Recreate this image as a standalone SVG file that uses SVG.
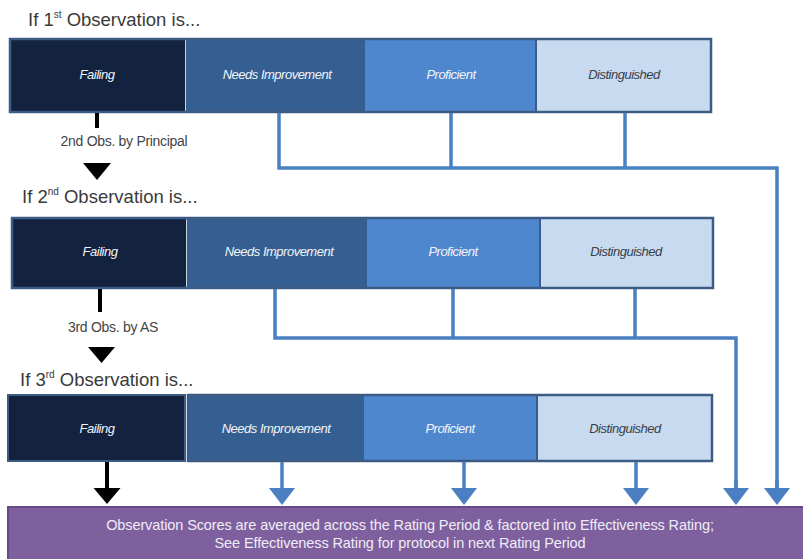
<svg xmlns="http://www.w3.org/2000/svg" width="803" height="559" viewBox="0 0 803 559">
<defs>
<style>
.hd{font-family:"Liberation Sans",Arial,sans-serif;font-size:18.5px;fill:#3a3a3a}
.sup{font-size:10px}
.lbl{font-family:"Liberation Sans",Arial,sans-serif;font-size:13px;font-style:italic;text-anchor:middle;letter-spacing:-0.5px}
.w{fill:#f2f4f8}
.dk{fill:#3a3f48}
.fail{fill:#12223f}
.ni{fill:#355f91}
.pro{fill:#4f87cf}
.dis{fill:#c7daf0}
.frame{fill:none;stroke:#3d5c85;stroke-width:2.5}
.div{stroke:#3d5c85;stroke-width:2}
.blue{fill:none;stroke:#4a7fc1;stroke-width:3.5}
.blk{fill:none;stroke:#000;stroke-width:4}
.note{font-family:"Liberation Sans",Arial,sans-serif;font-size:14.5px;fill:#f0ecf6;text-anchor:middle;letter-spacing:-0.1px}
.small{font-family:"Liberation Sans",Arial,sans-serif;font-size:14px;fill:#444;text-anchor:middle;letter-spacing:-0.3px}
</style>
<marker id="ab" markerUnits="userSpaceOnUse" markerWidth="18" markerHeight="28" refX="9" refY="13" orient="auto" viewBox="0 0 18 28">
<path d="M0,0 L17,13 L0,26 z" fill="#4a7fc1"/>
</marker>
<marker id="ak" markerUnits="userSpaceOnUse" markerWidth="18" markerHeight="28" refX="9" refY="13.5" orient="auto" viewBox="0 0 18 28">
<path d="M0,0 L16,13.5 L0,27 z" fill="#000"/>
</marker>
</defs>
<rect width="803" height="559" fill="#fff"/>

<g id="heading1"><text class="hd" x="28" y="26">If 1<tspan class="sup" dy="-8">st</tspan><tspan dy="8"> Observation is...</tspan></text></g>
<g id="heading2"><text class="hd" x="22" y="203">If 2<tspan class="sup" dy="-8">nd</tspan><tspan dy="8"> Observation is...</tspan></text></g>
<g id="heading3"><text class="hd" x="20" y="386">If 3<tspan class="sup" dy="-8">rd</tspan><tspan dy="8"> Observation is...</tspan></text></g>

<g id="row1">
<rect class="fail" x="10" y="39" width="175" height="73"/>
<rect class="ni" x="185" y="39" width="180" height="73"/>
<rect class="pro" x="365" y="39" width="171" height="73"/>
<rect class="dis" x="536" y="39" width="175" height="73"/>
<line class="div" x1="536" y1="39" x2="536" y2="112"/>
<line x1="185.5" y1="40" x2="185.5" y2="111" stroke="#c9d3e0" stroke-width="1"/>
<rect class="frame" x="10" y="39" width="701" height="73"/>
<text class="lbl w" x="97" y="79">Failing</text>
<text class="lbl w" x="277" y="79">Needs Improvement</text>
<text class="lbl w" x="451" y="79">Proficient</text>
<text class="lbl dk" x="624" y="79">Distinguished</text>
</g>

<g id="row2">
<rect class="fail" x="12" y="218" width="174" height="70"/>
<rect class="ni" x="186" y="218" width="181" height="70"/>
<rect class="pro" x="367" y="218" width="173" height="70"/>
<rect class="dis" x="540" y="218" width="173" height="70"/>
<line class="div" x1="540" y1="218" x2="540" y2="288"/>
<line x1="186.5" y1="219" x2="186.5" y2="287" stroke="#c9d3e0" stroke-width="1"/>
<rect class="frame" x="12" y="218" width="701" height="70"/>
<text class="lbl w" x="100" y="256">Failing</text>
<text class="lbl w" x="279" y="256">Needs Improvement</text>
<text class="lbl w" x="453" y="256">Proficient</text>
<text class="lbl dk" x="626" y="256">Distinguished</text>
</g>

<g id="row3">
<rect class="fail" x="8" y="395" width="177" height="66" stroke="#3d5c85" stroke-width="2"/>
<rect class="ni" x="188" y="395" width="176" height="66"/>
<rect class="pro" x="364" y="395" width="173" height="66"/>
<rect class="dis" x="537" y="395" width="175" height="66"/>
<line class="div" x1="537" y1="395" x2="537" y2="461"/>
<rect x="188" y="395" width="524" height="66" fill="none" stroke="#3d5c85" stroke-width="2.5"/>
<text class="lbl w" x="97" y="433">Failing</text>
<text class="lbl w" x="276" y="433">Needs Improvement</text>
<text class="lbl w" x="450" y="433">Proficient</text>
<text class="lbl dk" x="625" y="433">Distinguished</text>
</g>

<g id="summary">
<rect x="8" y="507" width="800" height="56" fill="#7e609f" stroke="#674a89" stroke-width="2"/>
<text class="note" x="410" y="530">Observation Scores are averaged across the Rating Period &amp; factored into Effectiveness Rating;</text>
<text class="note" x="400" y="548">See Effectiveness Rating for protocol in next Rating Period</text>
</g>

<g id="connectors">
<polyline class="blue" points="279,113 279,168 777,168 777,495"/>
<line class="blue" x1="451" y1="113" x2="451" y2="168"/>
<line class="blue" x1="625" y1="113" x2="625" y2="168"/>
<line x1="777" y1="480" x2="777" y2="497" class="blue" marker-end="url(#ab)"/>
<polyline class="blue" points="275,289 275,338 736,338 736,495"/>
<line class="blue" x1="453" y1="289" x2="453" y2="338"/>
<line class="blue" x1="635" y1="289" x2="635" y2="338"/>
<line x1="736" y1="480" x2="736" y2="497" class="blue" marker-end="url(#ab)"/>
<line class="blue" x1="282" y1="462" x2="282" y2="497" marker-end="url(#ab)"/>
<line class="blue" x1="464" y1="462" x2="464" y2="497" marker-end="url(#ab)"/>
<line class="blue" x1="636" y1="462" x2="636" y2="497" marker-end="url(#ab)"/>
<line class="blk" x1="107" y1="462" x2="107" y2="497" marker-end="url(#ak)"/>
<line class="blk" x1="97" y1="113" x2="97" y2="128"/>
<text class="small" x="124" y="146">2nd Obs. by Principal</text>
<polygon points="83,163 111,163 97,180" fill="#000"/>
<line class="blk" x1="100" y1="289" x2="100" y2="312"/>
<text class="small" x="113" y="332">3rd Obs. by AS</text>
<polygon points="88,347 115,347 101.5,363" fill="#000"/>
</g>
</svg>
